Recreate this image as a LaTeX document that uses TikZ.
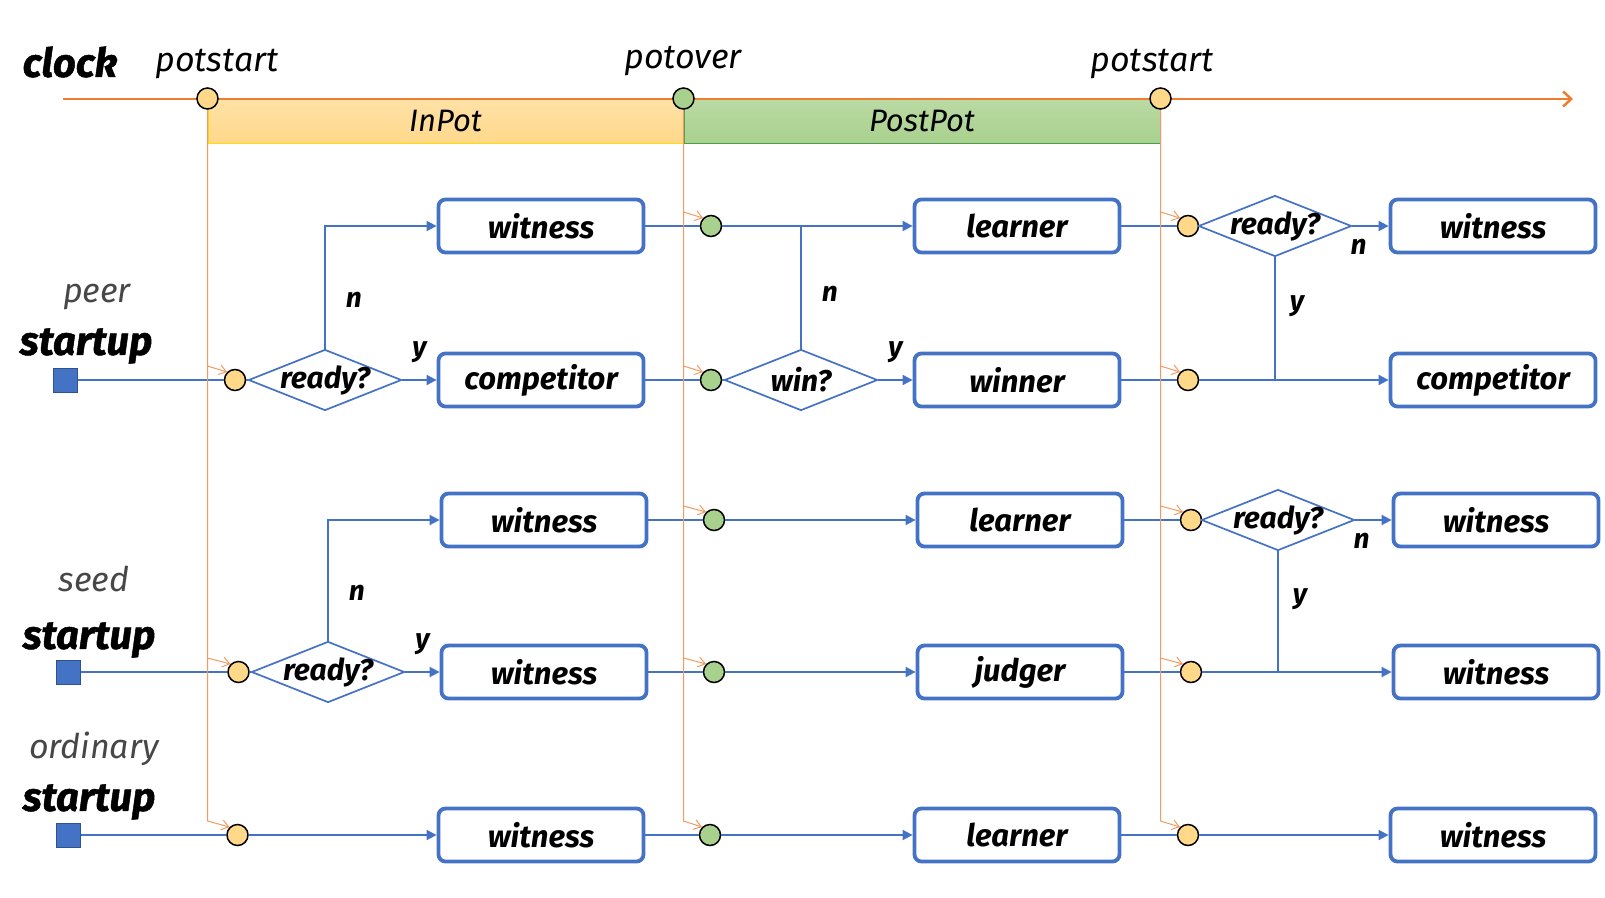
\documentclass[tikz,border=0pt]{standalone}
\usepackage{fontspec}
\usetikzlibrary{arrows.meta,positioning,shapes.geometric}

\setmainfont{Fira Sans}
\newfontfamily\firabi{Fira Sans Bold Italic}
\newfontfamily\firahi{Fira Sans Bold Italic}[FakeBold=1.2]
\newfontfamily\firai{Fira Sans Italic}
\newcommand\qt[1]{\makebox[0pt]{#1}}

\definecolor{flowblue}{HTML}{4472C4}
\definecolor{edgeblue}{HTML}{2F528F}
\definecolor{clockor}{HTML}{ED7D31}
\definecolor{tickor}{HTML}{F29A62}
\definecolor{evyel}{HTML}{FFD88A}
\definecolor{evgrn}{HTML}{A9D18E}

\begin{document}
\begin{tikzpicture}[
  x=1pt, y=-1pt,
  box/.style={draw=flowblue, line width=3.8pt, rounded corners=7pt, fill=white,
    minimum width=205pt, minimum height=53pt, inner sep=0pt,
    font=\firabi\fontsize{31}{36}\selectfont},
  ask/.style={diamond, draw=flowblue, line width=1.7pt, fill=white, inner sep=0pt,
    minimum width=153pt, minimum height=61pt, font=\firabi\fontsize{30}{36}\selectfont},
  evy/.style={circle, draw=black, line width=1.5pt, fill=evyel, minimum size=21pt, inner sep=0pt},
  evg/.style={evy, fill=evgrn},
  boot/.style={draw=edgeblue, line width=1pt, fill=flowblue, minimum size=24pt, inner sep=0pt},
  link/.style={draw=flowblue, line width=1.8pt},
  flow/.style={link, -{Triangle[length=10pt,width=10pt]}},
  tick/.style={draw=tickor, line width=1pt, -{Straight Barb[length=7pt,width=10pt]}},
  clk/.style={draw=clockor, line width=2.5pt, -{Straight Barb[length=8pt,width=15pt]}},
  yn/.style={font=\firabi\fontsize{28}{34}\selectfont, inner sep=0pt},
  role/.style={font=\firai\fontsize{34}{40}\selectfont, text=black!72},
  strt/.style={font=\firahi\fontsize{40}{46}\selectfont},
  evt/.style={font=\firai\fontsize{34}{40}\selectfont},
  band/.style={minimum height=44pt, inner sep=0pt, line width=1pt,
    font=\firai\fontsize{31}{36}\selectfont}
]
\useasboundingbox (0,0) rectangle (1605,897);

% clock and pot phases
\node[band, draw=yellow!80!orange, top color=evyel!75, bottom color=evyel, minimum width=475pt]
  (inpot) at (445.5,121) {InPot};
\node[band, draw=green!45!black!70, top color=evgrn!80, bottom color=evgrn, minimum width=476pt,
  anchor=north west] (postpot) at (inpot.north east) {PostPot};
\coordinate (t0) at (63,99);
\coordinate (t1) at (1573,99);
\draw[clk] (t0) -- (t1);
\node[evy] (c1) at (inpot.north west) {};
\node[evg] (c2) at (inpot.north east) {};
\node[evy] (c3) at (postpot.north east) {};
\node[strt] (clock) at (70,62) {clock};
\node[evt] (ev1) at (217,64) {potstart};
\node[evt] (ev2) at (683,61) {potover};
\node[evt] (ev3) at (1152,64) {potstart};

% peer
\node[role] (peer) at (97,297) {peer};
\node[strt] (pstart) at (86,346) {startup};
\node[boot] (p0) at (65,380) {};
\node[evy] (p1) at (235,380) {};
\node[ask] (pq1) at (325,380) {\qt{ready?}};
\node[box] (pw1) at (541,226) {witness};
\node[box] (pc1) at (541,380) {competitor};
\node[evg] (p2a) at (711,226) {};
\node[evg] (p2) at (711,380) {};
\node[ask] (pq2) at (801,380) {\qt{win?}};
\node[box] (pl2) at (1017,226) {learner};
\node[box] (pv2) at (1017,380) {winner};
\node[evy] (p3a) at (1188,226) {};
\node[evy] (p3) at (1188,380) {};
\node[ask] (pq3) at (1275,226) {\qt{ready?}};
\node[box] (pw3) at (1493,226) {witness};
\node[box] (pc3) at (1493,380) {competitor};

\draw[link] (p0) -- (p1) -- (pq1);
\draw[flow] (pq1) -- node[yn, above=16pt] {y} (pc1);
\draw[flow] (pq1.north) |- node[yn, pos=0.2, right=20pt] {n} (pw1);
\draw[link] (pw1) -- (p2a);
\draw[link] (pc1) -- (p2) -- (pq2);
\draw[flow] (p2a) -- (pl2);
\draw[flow] (pq2) -- node[yn, above=16pt] {y} (pv2);
\draw[link] (pq2.north) -- node[yn, pos=0.45, right=20pt] {n} (pq2.north |- pl2);
\draw[link] (pl2) -- (p3a) -- (pq3);
\draw[flow] (pq3) -- node[yn, below=12pt, pos=0.17] {n} (pw3);
\draw[link] (pv2) -- (p3);
\draw[flow] (p3) -- (pc3);
\draw[link] (pq3.south) -- node[yn, pos=0.4, right=14pt] {y} (pq3.south |- pc3);

% seed
\node[role] (seed) at (94,579) {seed};
\node[strt] (sstart) at (89,640) {startup};
\node[boot] (s0) at (68.5,672) {};
\node[evy] (s1) at (238.5,672) {};
\node[ask] (sq1) at (328,672) {\qt{ready?}};
\node[box] (sw1) at (544,520) {witness};
\node[box] (sw2) at (544,672) {witness};
\node[evg] (s2a) at (714,520) {};
\node[evg] (s2) at (714,672) {};
\node[box] (sl2) at (1020,520) {learner};
\node[box] (sj2) at (1020,672) {judger};
\node[evy] (s3a) at (1191,520) {};
\node[evy] (s3) at (1191,672) {};
\node[ask] (sq3) at (1278,520) {\qt{ready?}};
\node[box] (sw3) at (1496,520) {witness};
\node[box] (sw4) at (1496,672) {witness};

\draw[link] (s0) -- (s1) -- (sq1);
\draw[flow] (sq1) -- node[yn, above=16pt] {y} (sw2);
\draw[flow] (sq1.north) |- node[yn, pos=0.2, right=20pt] {n} (sw1);
\draw[link] (sw1) -- (s2a);
\draw[link] (sw2) -- (s2);
\draw[flow] (s2a) -- (sl2);
\draw[flow] (s2) -- (sj2);
\draw[link] (sl2) -- (s3a) -- (sq3);
\draw[flow] (sq3) -- node[yn, below=12pt, pos=0.17] {n} (sw3);
\draw[link] (sj2) -- (s3);
\draw[flow] (s3) -- (sw4);
\draw[link] (sq3.south) -- node[yn, pos=0.4, right=14pt] {y} (sq3.south |- sw4);

% ordinary
\node[role] (ordinary) at (94,749) {ordinary};
\node[strt] (ostart) at (89,802) {startup};
\node[boot] (o0) at (68.5,835) {};
\node[evy] (o1) at (237.5,835) {};
\node[box] (ow1) at (541,835) {witness};
\node[evg] (o2) at (710,835) {};
\node[box] (ol2) at (1017,835) {learner};
\node[evy] (o3) at (1188,835) {};
\node[box] (ow3) at (1493,835) {witness};

\draw[link] (o0) -- (o1);
\draw[flow] (o1) -- (ow1);
\draw[link] (ow1) -- (o2);
\draw[flow] (o2) -- (ol2);
\draw[link] (ol2) -- (o3);
\draw[flow] (o3) -- (ow3);

% clock ticks down to the roles
\draw[tick] (c1.south) -- ([yshift=14pt]c1 |- o1) -- (o1.135);
\draw[tick] ([yshift=14pt]c1 |- p1) -- (p1.135);
\draw[tick] ([yshift=14pt]c1 |- s1) -- (s1.135);
\draw[tick] (c2.south) -- ([yshift=14pt]c2 |- o2) -- (o2.135);
\foreach \e in {p2a,p2,s2a,s2}
  \draw[tick] ([yshift=14pt]c2 |- \e) -- (\e.135);
\draw[tick] (c3.south) -- ([yshift=14pt]c3 |- o3) -- (o3.135);
\foreach \e in {p3a,p3,s3a,s3}
  \draw[tick] ([yshift=14pt]c3 |- \e) -- (\e.135);

\end{tikzpicture}
\end{document}
